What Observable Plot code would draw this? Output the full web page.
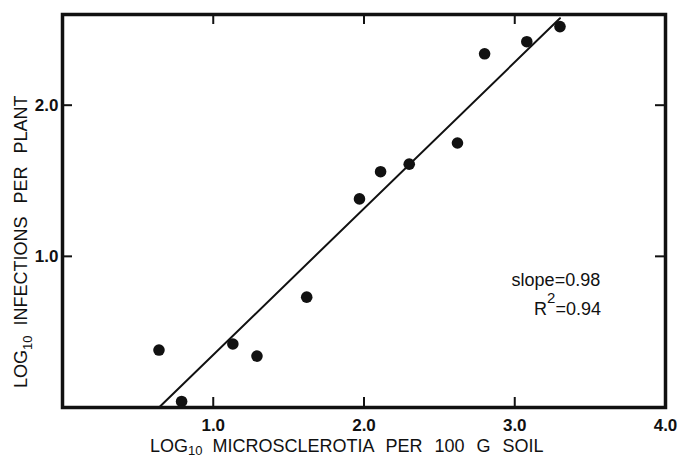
<!DOCTYPE html>
<html><head><meta charset="utf-8">
<script src="https://cdn.jsdelivr.net/npm/d3@7"></script>
<script src="https://cdn.jsdelivr.net/npm/@observablehq/plot@0.6"></script>
<style>body{margin:0;background:#fff;} svg{display:block;}</style>
</head><body><div id="chart"></div>
<script>
// log10 microsclerotia per 100 g soil
const soilLog = [0.64, 0.79, 1.13, 1.29, 1.62, 1.97, 2.11, 2.30, 2.62, 2.80, 3.08, 3.30];
// log10 infections per plant
const infectLog = [0.38, 0.04, 0.42, 0.34, 0.73, 1.38, 1.56, 1.61, 1.75, 2.34, 2.42, 2.52];
// regression line end points
const fitX = [0.64, 3.30];
const fitY = [0.0, 2.575];
const xTicks = [1, 2, 3];
const yTicks = [1, 2];
const xTickLabels = [1, 2, 3, 4];
const yTickLabels = [1, 2];
const xTitle = ["LOG", "10", "MICROSCLEROTIA PER 100 G SOIL"];
const yTitle = ["LOG", "10", "INFECTIONS PER PLANT"];
const slopeText = "slope=0.98";
const r2Text = ["R", "2", "=0.94"];

const points = soilLog.map((x, i) => ({x, y: infectLog[i]}));
const fit = fitX.map((x, i) => ({x, y: fitY[i]}));

const W = 679, H = 457, mL = 62, mR = 14, mT = 14, mB = 50;
const ph = H - mT - mB, pw = W - mL - mR;
const ink = "#111";
const font = "'Liberation Sans', Arial, Helvetica, sans-serif";

const chart = Plot.plot({
  width: W, height: H,
  marginLeft: mL, marginRight: mR, marginTop: mT, marginBottom: mB,
  x: {domain: [0, 4], label: null},
  y: {domain: [0, 2.6], label: null},
  style: {fontFamily: font, background: "#fff", color: ink},
  marks: [
    Plot.tickX(xTicks, {x: d => d, stroke: ink, strokeWidth: 2, insetTop: ph - 10}),
    Plot.tickX(xTicks, {x: d => d, stroke: ink, strokeWidth: 2, insetBottom: ph - 10}),
    Plot.tickY(yTicks, {y: d => d, stroke: ink, strokeWidth: 2, insetRight: pw - 10}),
    Plot.tickY(yTicks, {y: d => d, stroke: ink, strokeWidth: 2, insetLeft: pw - 10}),
    Plot.line(fit, {x: "x", y: "y", stroke: ink, strokeWidth: 2}),
    Plot.dot(points, {x: "x", y: "y", r: 5.8, fill: ink, stroke: null}),
    Plot.frame({stroke: ink, strokeWidth: 3.5}),
    Plot.axisX(xTickLabels, {anchor: "bottom", tickSize: 0, tickPadding: 11, fontSize: 17, fontWeight: "bold", tickFormat: d3.format(".1f"), label: null, fill: ink}),
    Plot.axisY(yTickLabels, {anchor: "left", tickSize: 0, tickPadding: 4, fontSize: 17, fontWeight: "bold", tickFormat: d3.format(".1f"), label: null, fill: ink})
  ]
});
document.getElementById("chart").appendChild(chart);

const svg = d3.select(chart);
const sx = chart.scale("x"), sy = chart.scale("y");
const g = svg.append("g").attr("font-family", font).attr("fill", ink).attr("text-anchor", "start");

// x axis title
const xl = g.append("text").attr("x", 150).attr("y", 452).attr("font-size", 18).attr("word-spacing", 7);
xl.append("tspan").text(xTitle[0]);
xl.append("tspan").attr("font-size", 13).attr("dy", 3).text(xTitle[1]);
xl.append("tspan").attr("dy", -3).attr("dx", 10).text(xTitle[2]);

// y axis title
const yl = g.append("text").attr("transform", "translate(27,388) rotate(-90)").attr("font-size", 18).attr("word-spacing", 8);
yl.append("tspan").text(yTitle[0]);
yl.append("tspan").attr("font-size", 13).attr("dy", 5).text(yTitle[1]);
yl.append("tspan").attr("dy", -5).attr("dx", 10).text(yTitle[2]);

// statistics annotation
g.append("text").attr("x", sx.apply(3.57)).attr("y", sy.apply(0.80))
  .attr("text-anchor", "end").attr("font-size", 18).text(slopeText);
const r2 = g.append("text").attr("x", sx.apply(3.575)).attr("y", sy.apply(0.61))
  .attr("text-anchor", "end").attr("font-size", 18);
r2.append("tspan").text(r2Text[0]);
r2.append("tspan").attr("font-size", 15).attr("dy", -12).text(r2Text[1]);
r2.append("tspan").attr("dy", 12).text(r2Text[2]);
</script>
</body></html>
